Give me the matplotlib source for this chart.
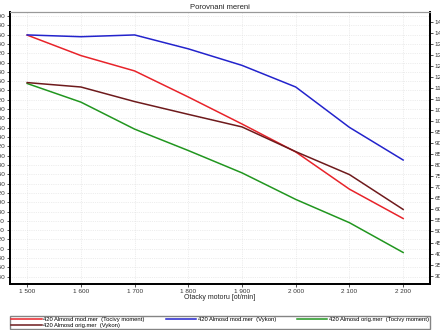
import matplotlib
matplotlib.use("Agg")
import matplotlib.pyplot as plt

plt.rcParams['font.family'] = ['Liberation Sans', 'DejaVu Sans']

# otacky motoru
rpm = [1500, 1600, 1700, 1800, 1900, 2000, 2100, 2200]

# tocivy moment (leva osa)
moment_mod = [859, 815, 782, 726, 668, 608, 528, 465]
moment_orig = [755, 715, 657, 611, 563, 506, 456, 392]

# vykon (prava osa)
vykon_mod = [139.1, 138.3, 139.1, 132.8, 125.3, 115.5, 97.2, 82.4]
vykon_orig = [117.5, 115.5, 108.9, 103.1, 97.4, 86.2, 75.8, 60.0]

left_ticks = list(range(340, 901, 20))
right_ticks = list(range(30, 146, 5))
x_labels = ["1 500", "1 600", "1 700", "1 800", "1 900", "2 000", "2 100", "2 200"]

fig = plt.figure(figsize=(4.4, 3.3), dpi=100)
ax = fig.add_axes([10/440, 46/330, 420/440, 272/330])
ax2 = ax.twinx()

l1, = ax.plot(rpm, moment_mod, color='#e8232a', lw=1.1,
              label='420 Almosd mod.mer  (Tocivy moment)')
l3, = ax.plot(rpm, moment_orig, color='#21961f', lw=1.1,
              label='420 Almosd orig.mer  (Tocivy moment)')
l2, = ax2.plot(rpm, vykon_mod, color='#2323cc', lw=1.1,
               label='420 Almosd mod.mer  (Vykon)')
l4, = ax2.plot(rpm, vykon_orig, color='#6e1a1c', lw=1.1,
               label='420 Almosd orig.mer  (Vykon)')

ax.set_xlim(1468, 2250)
ax.set_ylim(324.3, 908.6)
ax2.set_ylim(26.2, 149.5)

ax.set_xticks(rpm)
ax.set_xticklabels(x_labels)
ax.set_yticks(left_ticks)
ax2.set_yticks(right_ticks)

ax.tick_params(axis='both', labelsize=4.6, length=2, width=0.6, pad=1.5, colors='#333333')
ax2.tick_params(axis='y', labelsize=4.6, length=2, width=0.6, pad=1.5, colors='#333333')

ax.grid(True, color='#dddddd', lw=0.5, ls=':')

for a in (ax, ax2):
    a.spines['top'].set_color('#999999')
    a.spines['top'].set_linewidth(0.8)
    for s in ('left', 'right', 'bottom'):
        a.spines[s].set_linewidth(1.3)
        a.spines[s].set_color('black')

ax.set_xlabel('Otacky motoru [ot/min]', fontsize=5, labelpad=0, color='#222222')
ax.set_title('Porovnani mereni', fontsize=5.5, pad=2, color='#222222')

fig.legend(handles=[l1, l4, l2, l3], loc='lower left', ncol=3, mode='expand',
           bbox_to_anchor=(10/440, 1/330, 420/440, 17/330), fontsize=4.2,
           frameon=True, fancybox=False, edgecolor='#666666', handlelength=5.2,
           handletextpad=0.3, borderpad=0.2, labelspacing=0.1, borderaxespad=0)

fig.savefig('out.png', dpi=100)
